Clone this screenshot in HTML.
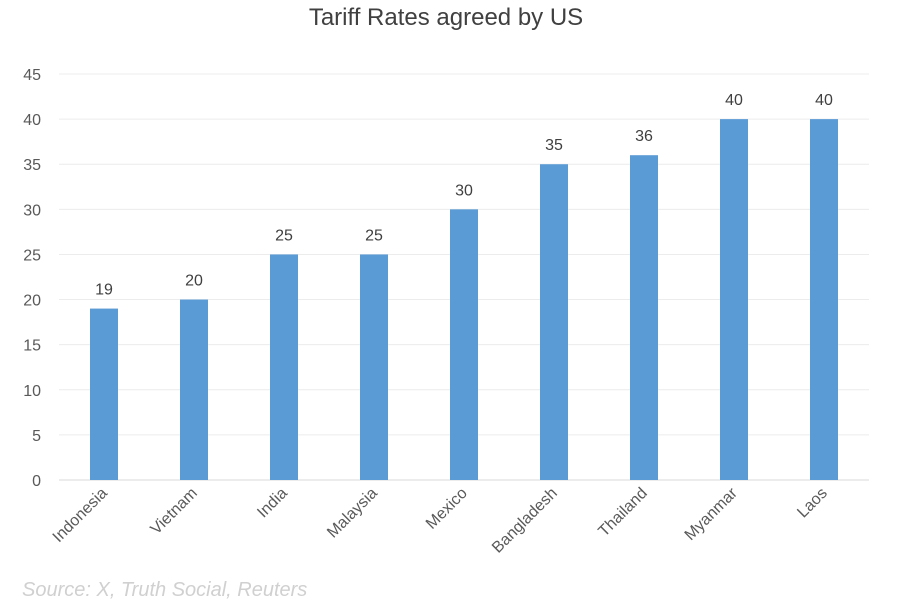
<!DOCTYPE html>
<html><head><meta charset="utf-8">
<style>
body{margin:0;background:#fff;width:900px;height:600px;overflow:hidden;font-family:"Liberation Sans",Arial,sans-serif;}
</style></head>
<body>
<svg width="900" height="600" id="chart">
<text x="446" y="25" text-anchor="middle" font-size="24" fill="#404040">Tariff Rates agreed by US</text>
<g id="grid"></g><g id="bars"></g><g id="labels"></g>
<text x="22" y="596" font-size="20" font-style="italic" fill="#d0d0d0">Source: X, Truth Social, Reuters</text>
</svg>
<script>
const categories=["Indonesia","Vietnam","India","Malaysia","Mexico","Bangladesh","Thailand","Myanmar","Laos"];
const values=[19,20,25,25,30,35,36,40,40];
const yTicks=[0,5,10,15,20,25,30,35,40,45];
const ns="http://www.w3.org/2000/svg";
const x0=59,x1=869,y0=480,yTop=74,yMax=45;
const y=v=>y0-(v/yMax)*(y0-yTop);
const step=(x1-x0)/categories.length;
const xc=i=>x0+step*(i+0.5);
function mk(tag,attrs,parent){const e=document.createElementNS(ns,tag);for(const k in attrs)e.setAttribute(k,attrs[k]);parent.appendChild(e);return e;}
const grid=document.getElementById('grid'),bars=document.getElementById('bars'),labels=document.getElementById('labels');
yTicks.forEach(t=>{
 const l=mk('line',{x1:x0,x2:x1,y1:y(t),y2:y(t),stroke:t===0?'#d9d9d9':'#ececec','stroke-width':1},grid);
 
 
 const tx=mk('text',{x:41,y:y(t)+6,'text-anchor':'end','font-size':16,fill:'#595959'},grid);
 tx.textContent=t;
 
 
});
categories.forEach((c,i)=>{
 const cx=xc(i),v=values[i];
 const r=mk('rect',{x:cx-14,y:y(v),width:28,height:y0-y(v),fill:'#5b9bd5'},bars);
 
 
 const vt=mk('text',{x:cx,y:y(v)-14,'text-anchor':'middle','font-size':16,fill:'#404040'},labels);
 vt.textContent=v;
 
 
 const ct=mk('text',{x:cx+4,y:494,'text-anchor':'end','font-size':16,fill:'#595959',transform:`rotate(-45 ${cx+4} 494)`},labels);
 ct.textContent=c;
 
 
});
</script>
</body></html>
